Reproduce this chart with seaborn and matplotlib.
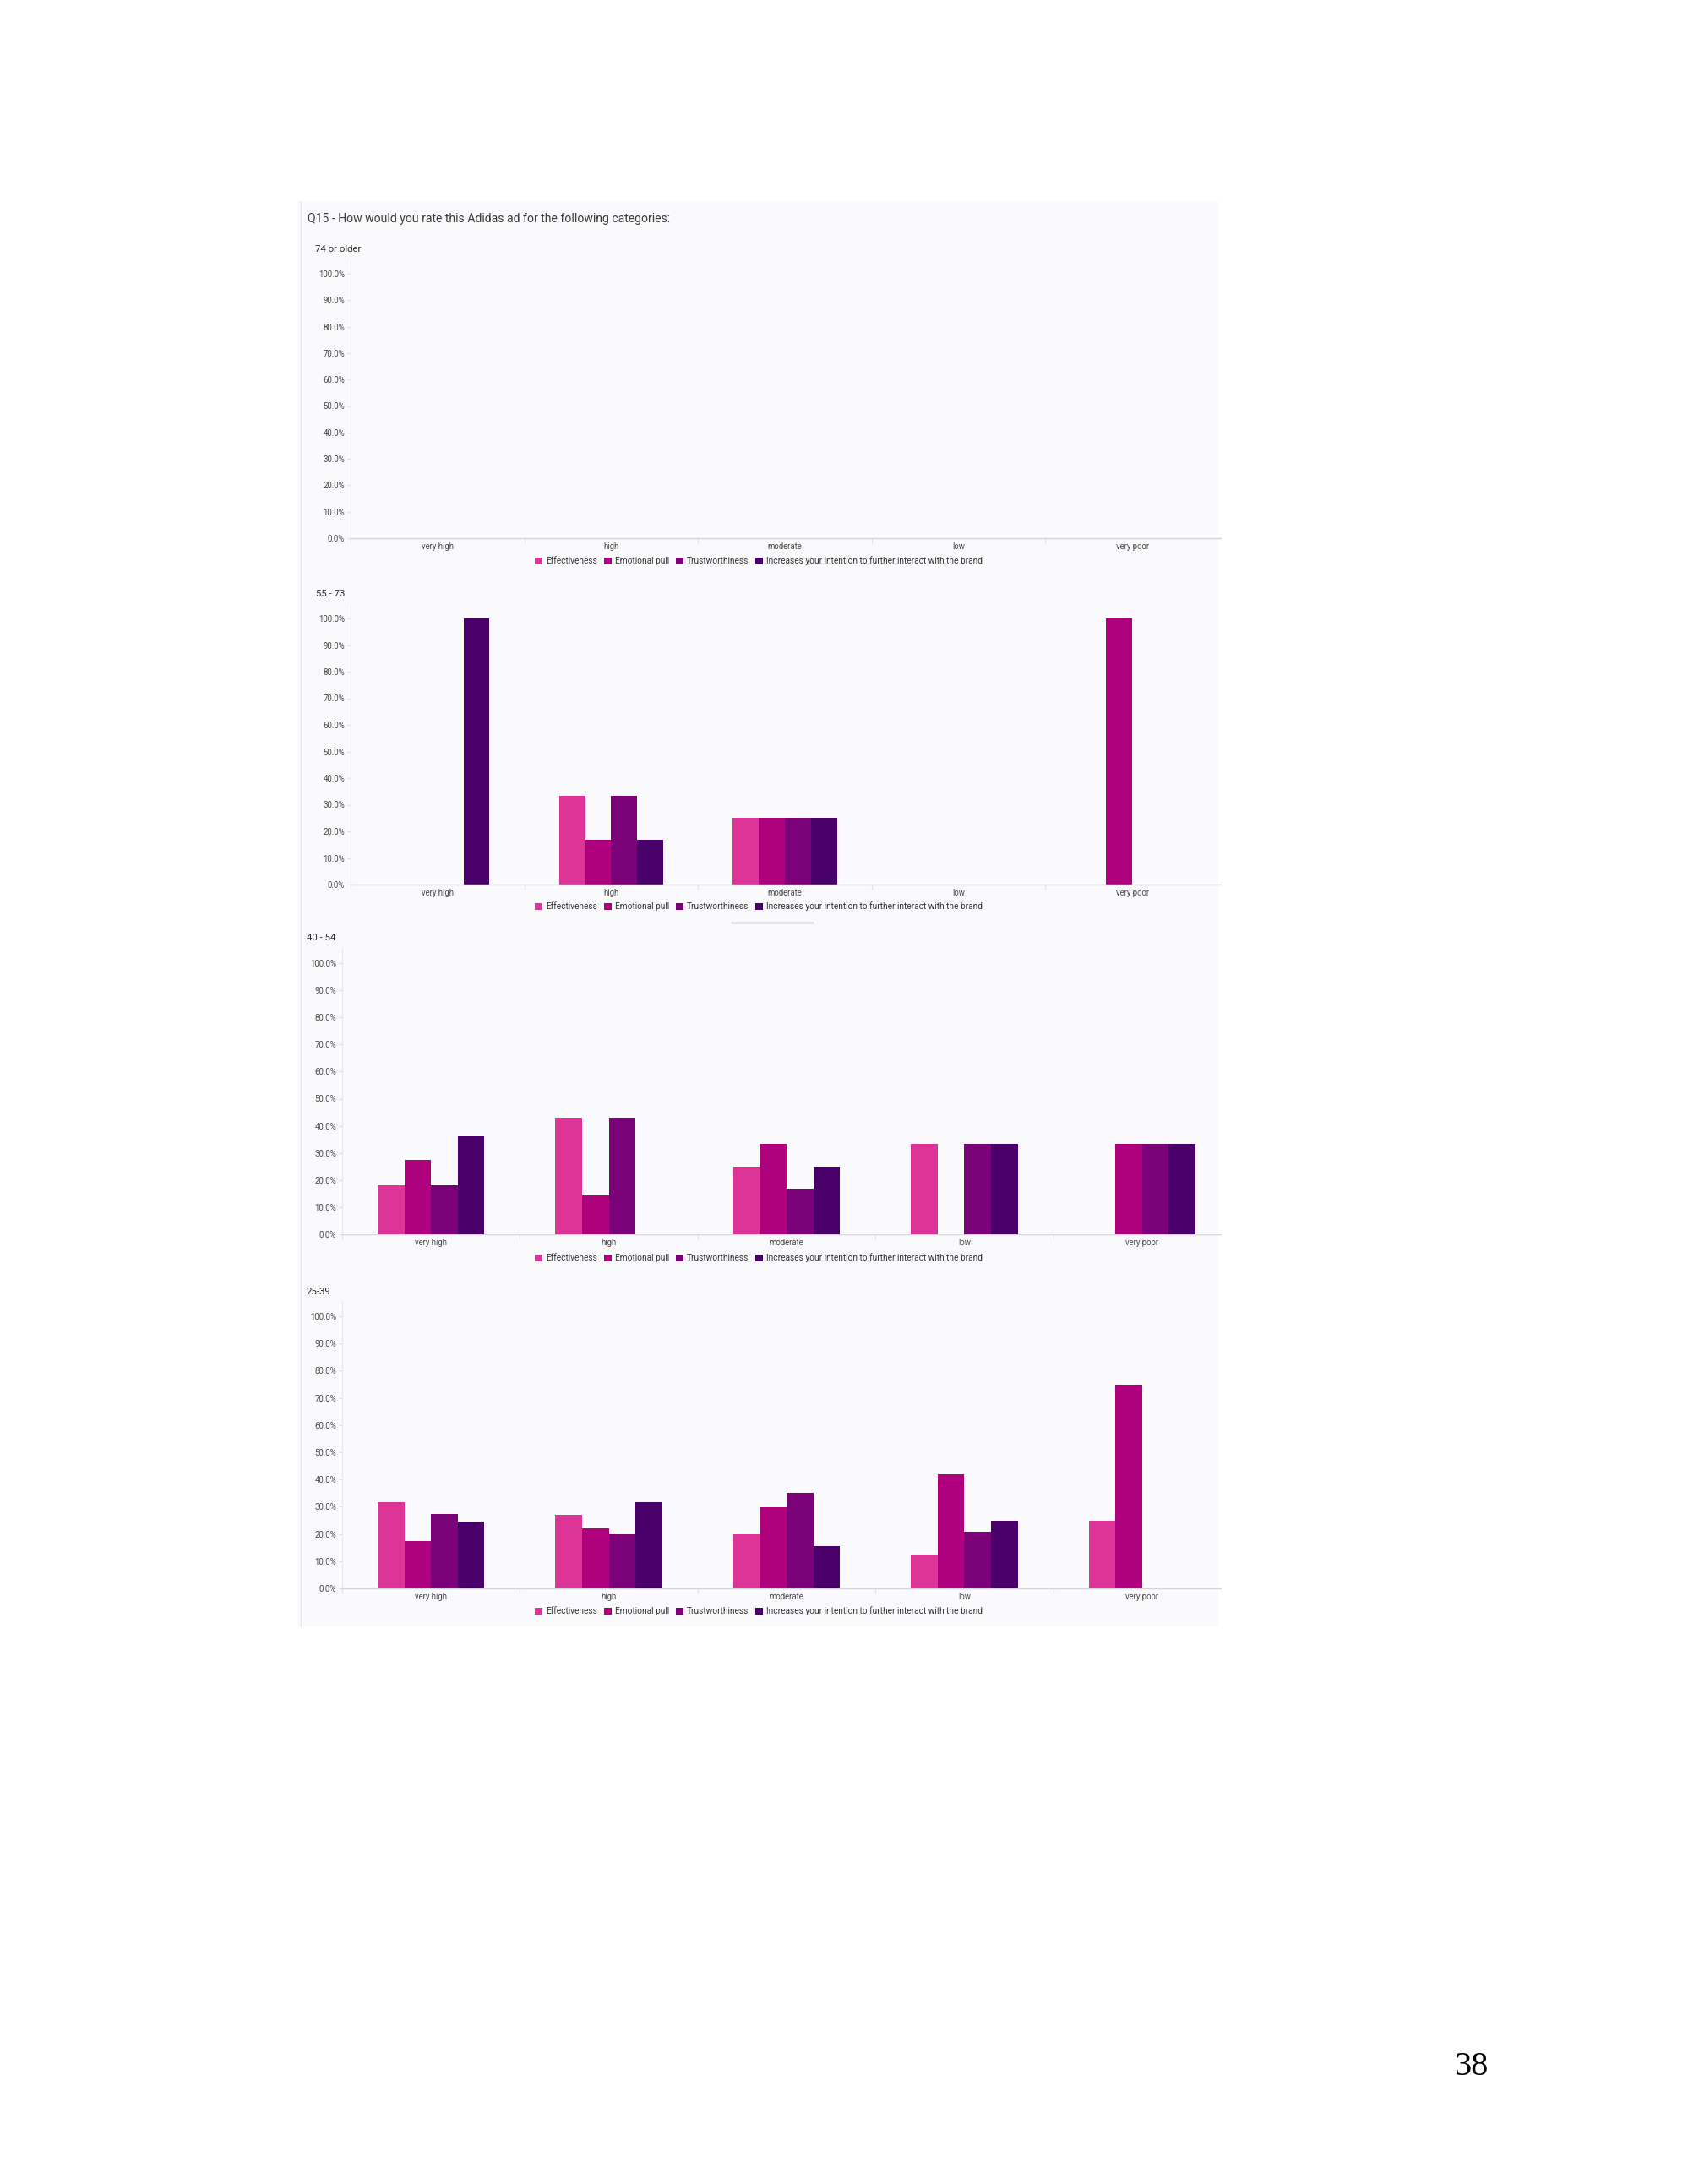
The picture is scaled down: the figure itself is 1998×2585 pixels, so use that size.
import numpy as np
import pandas as pd
import seaborn as sns
import matplotlib.pyplot as plt
from matplotlib.patches import Rectangle
from matplotlib.lines import Line2D
from matplotlib.ticker import FixedLocator, FuncFormatter

W, H = 1998, 2585

title = "Q15 - How would you rate this Adidas ad for the following categories:"
ratings = ["very high", "high", "moderate", "low", "very poor"]
measures = ["Effectiveness", "Emotional pull", "Trustworthiness",
            "Increases your intention to further interact with the brand"]
colors = ["#dd3497", "#ae017e", "#7a0177", "#49006a"]
age_groups = ["74 or older", "55 - 73", "40 - 54", "25-39"]

# percent of respondents per rating, one row per measure (same order as measures)
age_74_plus = [
    [0, 0, 0, 0, 0],
    [0, 0, 0, 0, 0],
    [0, 0, 0, 0, 0],
    [0, 0, 0, 0, 0],
]
age_55_73 = [
    [0, 33.3, 25.0, 0, 0],
    [0, 16.7, 25.0, 0, 100.0],
    [0, 33.3, 25.0, 0, 0],
    [100.0, 16.7, 25.0, 0, 0],
]
age_40_54 = [
    [18.2, 42.9, 25.0, 33.3, 0],
    [27.3, 14.3, 33.3, 0, 33.3],
    [18.2, 42.9, 16.7, 33.3, 33.3],
    [36.4, 0, 25.0, 33.3, 33.3],
]
age_25_39 = [
    [31.6, 26.9, 20.0, 12.5, 25.0],
    [17.5, 22.2, 29.8, 41.9, 75.0],
    [27.3, 19.9, 35.2, 20.9, 0],
    [24.5, 31.8, 15.4, 25.0, 0],
]
group_values = [age_74_plus, age_55_73, age_40_54, age_25_39]


def to_frame(values):
    rows = []
    for m, series in zip(measures, values):
        for r, v in zip(ratings, series):
            rows.append({"rating": r, "measure": m, "pct": v})
    return pd.DataFrame(rows)


def fig_box(left, top, right, bottom):
    return [left / W, 1 - bottom / H, (right - left) / W, (bottom - top) / H]


sns.set_theme(style="white")
plt.rcParams["font.family"] = ["Roboto", "DejaVu Sans"]

fig = plt.figure(figsize=(W / 100, H / 100), dpi=100)
fig.patch.set_facecolor("white")

# panel background like the survey report card
fig.patches.append(Rectangle((352 / W, 1 - 1925 / H), (1442 - 352) / W, (1925 - 238) / H,
                             transform=fig.transFigure, facecolor="#fafafc",
                             edgecolor="none", zorder=-10))
fig.lines.append(Line2D([356 / W, 356 / W], [1 - 238 / H, 1 - 1925 / H],
                        transform=fig.transFigure, color="#e4e4ea", lw=1.0, zorder=-5))
fig.lines.append(Line2D([866 / W, 962 / W], [1 - 1092 / H, 1 - 1092 / H],
                        transform=fig.transFigure, color="#dcdce2", lw=2.0,
                        solid_capstyle="round", zorder=-5))

fig.text(364 / W, 1 - 259 / H, title, ha="left", va="center", fontsize=10.1, color="#3a3a3a")

# left, right, zero line y, 100% line y, label x, label y, legend y
layout = [
    (415, 1443, 637, 324, 373, 295, 664),
    (415, 1443, 1047, 732, 374, 703, 1073),
    (405, 1457, 1461, 1140, 363, 1110, 1489),
    (405, 1457, 1880, 1558, 362, 1529, 1907),
]
ytop = 105.5

for name, values, (l, r, y0, y100, lx, ly, legy) in zip(age_groups, group_values, layout):
    top = y0 - (y0 - y100) * ytop / 100
    ax = fig.add_axes(fig_box(l, top, r, y0))
    df = to_frame(values)
    sns.barplot(data=df, x="rating", y="pct", hue="measure", order=ratings,
                hue_order=measures, palette=colors, width=0.6, errorbar=None,
                linewidth=0, saturation=1, ax=ax)
    ax.set_facecolor("none")
    ax.set_ylim(0, ytop)
    ax.set_xlim(-0.5, 4.5)
    ax.set_xlabel("")
    ax.set_ylabel("")
    ax.yaxis.set_major_locator(FixedLocator(np.arange(0, 101, 10)))
    ax.yaxis.set_major_formatter(FuncFormatter(lambda v, p: f"{v:.1f}%"))
    ax.xaxis.set_minor_locator(FixedLocator(np.arange(-0.5, 4.6, 1)[:-1]))
    ax.tick_params(axis="y", labelsize=6.9, labelcolor="#4a4a4a", length=3,
                   color="#dcdce2", width=0.8, pad=2, left=True)
    ax.tick_params(axis="x", which="major", labelsize=6.9, labelcolor="#4a4a4a",
                   length=0, pad=3.5)
    ax.tick_params(axis="x", which="minor", length=4, color="#e2e2e8", width=0.8,
                   bottom=True)
    for side in ["top", "right"]:
        ax.spines[side].set_visible(False)
    # the baseline stops at the card edge
    x_end = -0.5 + 5 * (1445 - l) / (r - l)
    ax.spines["bottom"].set_bounds(-0.5, x_end)
    ax.spines["left"].set_color("#e8e8ee")
    ax.spines["bottom"].set_color("#d4d4dc")
    ax.spines["left"].set_linewidth(0.8)
    ax.spines["bottom"].set_linewidth(1.0)

    sns.move_legend(ax, "center", bbox_to_anchor=(898 / W, 1 - legy / H),
                    bbox_transform=fig.transFigure, ncol=4, frameon=False, title=None,
                    fontsize=7.3, handlelength=0.9, handleheight=0.9,
                    handletextpad=0.35, columnspacing=0.8, borderpad=0)
    for t in ax.get_legend().get_texts():
        t.set_color("#333333")

    fig.text(lx / W, 1 - ly / H, name, ha="left", va="center", fontsize=8.2, color="#2a2a2a")

fig.text(1722 / W, 1 - 2447 / H, "38", ha="left", va="center", fontsize=29,
         family="Liberation Serif", color="black")

fig.savefig("out.png", dpi=100, facecolor="white")
